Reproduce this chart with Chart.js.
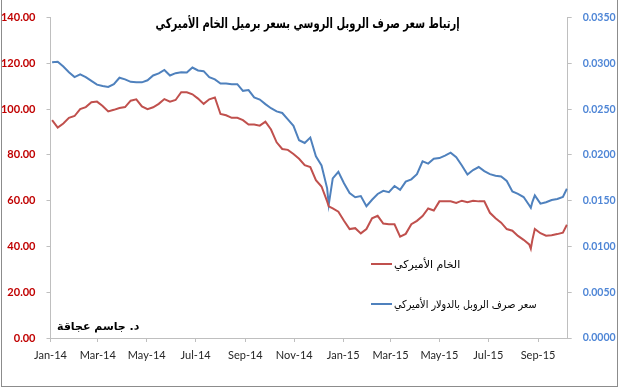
<!DOCTYPE html>
<html>
<head>
<meta charset="utf-8">
<script src="https://cdn.jsdelivr.net/npm/chart.js@4/dist/chart.umd.min.js"></script>
<style>
  html, body { margin:0; padding:0; background:#fff; }
  #wrap { position:relative; width:620px; height:388px; overflow:hidden; background:#fff; }
  #c { position:absolute; left:0; top:0; }
  #frame { position:absolute; left:1px; top:0; width:617px; height:387px; box-sizing:border-box;
           border:1px solid #8c8c8c; border-top:none; pointer-events:none; }
  .ar { position:absolute; font-family:"DejaVu Sans", sans-serif; color:#000; white-space:nowrap; direction:rtl; }
  #title { left:0; width:616px; top:13px; text-align:center; font-size:14px; font-weight:bold; line-height:20px; }
  #title span { display:inline-block; transform:scaleX(0.715); transform-origin:50% 50%; }
  .leg { position:absolute; left:371px; height:16px; display:flex; align-items:center; direction:ltr; }
  .leg .ln { width:21px; height:2px; margin-right:2px; flex:none; }
  .leg .tx { font-family:"DejaVu Sans", sans-serif; font-size:11px; direction:rtl; color:#000; white-space:nowrap; display:inline-block; transform-origin:0 50%; }
  #sig { left:57px; top:319px; font-size:11px; font-weight:bold; line-height:16px; }
</style>
</head>
<body>
<div id="wrap">
  <canvas id="c" width="620" height="388"></canvas>
  <div id="frame"></div>
  <div id="title" class="ar"><span>إرتباط سعر صرف الروبل الروسي بسعر برميل الخام الأميركي</span></div>
  <div class="leg" style="top:256px;"><span class="ln" style="background:#c0504d"></span><span class="tx">الخام الأميركي</span></div>
  <div class="leg" style="top:296px;"><span class="ln" style="background:#4f81bd"></span><span class="tx" style="transform:scaleX(0.88)">سعر صرف الروبل بالدولار الأميركي</span></div>
  <div id="sig" class="ar">د. جاسم عجاقة</div>
</div>
<script>
// Day offsets from 1 Jan 2014
const days = [2,9,16,23,30,37,44,51,58,65,72,79,86,93,100,107,114,121,128,135,142,149,156,163,170,177,184,191,198,205,212,219,226,233,240,247,254,261,268,275,282,289,296,303,310,317,324,331,338,345,
  347,
  352,359,366,373,380,387,394,401,408,415,422,429,436,443,450,457,464,471,478,485,492,499,506,513,520,527,534,541,548,555,562,569,576,583,590,597,
  599,601,
  604,611,618,625,632,639,
  644];

// WTI crude (USD/barrel) – left axis
const crude = [95.2,91.9,93.7,96.2,97.0,100.0,100.9,103.0,103.3,101.4,
  99.0,99.7,100.5,100.9,103.7,104.3,101.2,100.0,100.8,102.3,
  104.4,103.3,104.0,107.4,107.4,106.5,104.6,102.3,104.3,105.1,
  97.9,97.3,96.2,96.2,95.2,93.3,93.3,92.8,94.5,91.1,
  85.5,82.6,82.2,80.4,78.3,75.5,74.7,69.0,66.2,59.7,
  57.5,
  56.6,55.2,51.2,47.6,48.0,45.7,47.6,52.3,53.4,50.0,
  49.7,49.7,44.3,45.5,49.7,51.2,53.3,56.6,55.7,59.7,
  59.7,59.7,59.0,60.0,59.3,60.0,59.7,59.7,54.7,52.3,
  50.4,47.6,46.9,44.6,42.9,40.9,
  39.0,43.0,
  47.6,45.8,44.7,44.9,45.4,46.0,
  49.5];

// Ruble in USD – right axis
const ruble = [0.03013,0.03018,0.02965,0.02903,0.02850,0.02880,0.02850,0.02808,0.02768,0.02753,
  0.02743,0.02773,0.02843,0.02825,0.02798,0.02793,0.02793,0.02815,0.02868,0.02890,
  0.02928,0.02868,0.02893,0.02903,0.02900,0.02955,0.02923,0.02915,0.02850,0.02825,
  0.02780,0.02780,0.02773,0.02773,0.02700,0.02708,0.02628,0.02605,0.02555,0.02510,
  0.02475,0.02458,0.02388,0.02318,0.02160,0.02130,0.02190,0.01985,0.01885,0.01635,
  0.01458,
  0.01743,0.01815,0.01690,0.01583,0.01538,0.01550,0.01440,0.01510,0.01573,0.01608,
  0.01593,0.01660,0.01618,0.01708,0.01733,0.01790,0.01930,0.01905,0.01958,0.01965,
  0.01993,0.02025,0.01975,0.01885,0.01785,0.01835,0.01868,0.01823,0.01790,0.01773,
  0.01765,0.01715,0.01600,0.01575,0.01540,0.01450,
  0.01423,0.01488,
  0.01558,0.01468,0.01483,0.01508,0.01518,0.01540,
  0.01630];

const monthTickDays = [0,59,120,181,243,304,365,424,485,546,608];
const monthLabels = ['Jan-14','Mar-14','May-14','Jul-14','Sep-14','Nov-14','Jan-15','Mar-15','May-15','Jul-15','Sep-15'];
const leftTicks = [0,20,40,60,80,100,120,140];
const rightTicks = [0,0.005,0.010,0.015,0.020,0.025,0.030,0.035];

const crudePts = days.map((d,i)=>({x:d, y:crude[i]}));
const rublePts = days.map((d,i)=>({x:d, y:ruble[i]}));

const axisGray = '#bfbfbf';

new Chart(document.getElementById('c'), {
  type: 'line',
  data: {
    datasets: [
      { label:'الخام الأميركي', data: crudePts, yAxisID:'yL', borderColor:'#c0504d', borderWidth:2, pointRadius:0, tension:0, fill:false },
      { label:'سعر صرف الروبل بالدولار الأميركي', data: rublePts, yAxisID:'yR', borderColor:'#4f81bd', borderWidth:2, pointRadius:0, tension:0, fill:false }
    ]
  },
  options: {
    responsive:false,
    animation:false,
    events:[],
    layout:{ padding:{ top:10.5, left:0, right:0, bottom:0 } },
    plugins:{ legend:{display:false}, title:{display:false}, tooltip:{enabled:false} },
    scales:{
      x:{
        type:'linear', min:0, max:645,
        afterBuildTicks:(s)=>{ s.ticks = monthTickDays.map(v=>({value:v})); },
        afterFit:(s)=>{ s.height = 50; },
        grid:{ drawOnChartArea:false, drawTicks:true, tickLength:4, tickColor:axisGray },
        border:{ color:axisGray, width:1 },
        ticks:{ autoSkip:false, maxRotation:0, padding:7, color:'#262626',
          font:{ family:'Lato', size:11 },
          callback:(v)=>{ const i = monthTickDays.indexOf(v); return i>=0 ? monthLabels[i] : ''; } }
      },
      yL:{
        type:'linear', position:'left', min:0, max:140,
        afterBuildTicks:(s)=>{ s.ticks = leftTicks.map(v=>({value:v})); },
        afterFit:(s)=>{ s.width = 50.5; },
        grid:{ drawOnChartArea:false, drawTicks:true, tickLength:4, tickColor:axisGray },
        border:{ color:axisGray, width:1 },
        ticks:{ padding:11, color:'#c00000', font:{ family:'Lato', size:11, weight:'bold' },
          callback:(v)=>Number(v).toFixed(2) }
      },
      yR:{
        type:'linear', position:'right', min:0, max:0.035,
        afterBuildTicks:(s)=>{ s.ticks = rightTicks.map(v=>({value:v})); },
        afterFit:(s)=>{ s.width = 52.3; },
        grid:{ drawOnChartArea:false, drawTicks:true, tickLength:4, tickColor:axisGray },
        border:{ color:axisGray, width:1 },
        ticks:{ padding:11, color:'#4f86d6', font:{ family:'Lato', size:10.5, weight:'bold' },
          callback:(v)=>Number(v).toFixed(4) }
      }
    }
  }
});
</script>
</body>
</html>
